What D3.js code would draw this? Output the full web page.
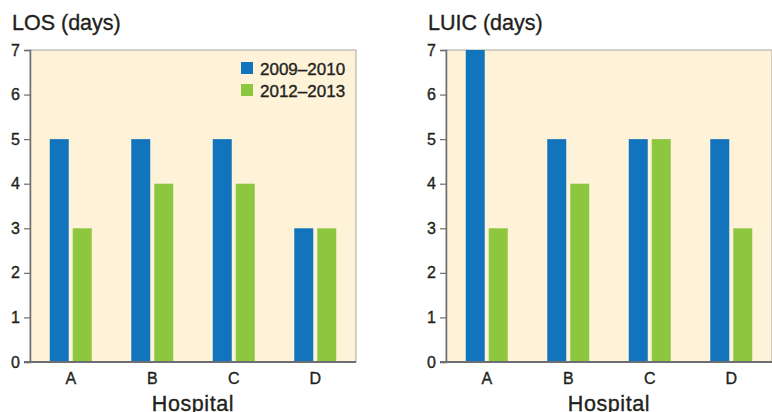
<!DOCTYPE html>
<html><head><meta charset="utf-8">
<script src="https://cdn.jsdelivr.net/npm/d3@7"></script>
<style>
html,body{margin:0;padding:0;background:#fff;overflow:hidden;}
svg{display:block;}
text{font-family:"Liberation Sans",Arial,Helvetica,sans-serif;fill:#231f20;stroke:#231f20;stroke-width:0.35px;}
</style></head>
<body>
<svg id="c" width="772" height="412"></svg>
<script>
const hospitals = ["A","B","C","D"];
const seriesNames = ["2009\u20132010","2012\u20132013"];
const losValues2009 = [5,5,5,3];
const losValues2012 = [3,4,4,3];
const luicValues2009 = [7,5,5,5];
const luicValues2012 = [3,4,5,3];
const yTicks = [0,1,2,3,4,5,6,7];
const colors = ["#1174bc","#8dc63f"];

const svg = d3.select("#c");

function panel(x0, title, v1, v2, showLegend){
  const w = 326, top = 50, bottom = 362;
  const g = svg.append("g");
  const x = d3.scaleBand().domain(hospitals).range([x0, x0 + w]);
  const y = d3.scaleLinear().domain([0,7]).range([bottom, top]);
  g.append("rect").attr("x", x0).attr("y", top).attr("width", w).attr("height", bottom-top)
    .attr("fill","#fef2d8").attr("stroke","#a9a6a0").attr("stroke-width",1);
  const bw = 19;
  const data = hospitals.map((h,i)=>({h, a:v1[i], b:v2[i]}));
  g.selectAll(".ba").data(data).join("rect")
    .attr("x", d=> x(d.h)+x.bandwidth()/2 - 21).attr("width", bw)
    .attr("y", d=> y(d.a)).attr("height", d=> y(0)-y(d.a)).attr("fill", colors[0]);
  g.selectAll(".bb").data(data).join("rect")
    .attr("x", d=> x(d.h)+x.bandwidth()/2 + 2).attr("width", bw)
    .attr("y", d=> y(d.b)).attr("height", d=> y(0)-y(d.b)).attr("fill", colors[1]);
  // y axis
  const ya = g.append("g").attr("transform",`translate(${x0},0)`)
    .call(d3.axisLeft(y).tickValues(yTicks).tickFormat(d3.format("d")).tickSize(6).tickPadding(4));
  ya.select(".domain").attr("stroke","#6d6e71").attr("stroke-width",1.5);
  ya.selectAll(".tick line").attr("stroke","#6d6e71").attr("stroke-width",1.2);
  ya.selectAll("text").attr("font-size",16).attr("font-family",null);
  // x axis
  const xa = g.append("g").attr("transform",`translate(0,${bottom})`)
    .call(d3.axisBottom(x).tickSize(0).tickPadding(11));
  xa.select(".domain").attr("stroke","#6d6e71").attr("stroke-width",2)
    .attr("d", `M${x0-6},0H${x0+w}`);
  xa.selectAll("text").attr("font-size",16).attr("font-family",null);
  g.append("text").attr("x", x0 + w/2).attr("y", 411).attr("text-anchor","middle")
    .attr("font-size",21.5).attr("letter-spacing",0.6).text("Hospital");
  g.append("text").attr("x", x0 - 18).attr("y", 30).attr("font-size",21.5).text(title);
  if(showLegend){
    const lg = g.append("g");
    seriesNames.forEach((s,i)=>{
      lg.append("rect").attr("x",241).attr("y",62+i*22).attr("width",12).attr("height",12).attr("fill",colors[i]);
      lg.append("text").attr("x",260).attr("y",75+i*22).attr("font-size",17).text(s);
    });
  }
}
panel(30, "LOS (days)", losValues2009, losValues2012, true);
panel(446, "LUIC (days)", luicValues2009, luicValues2012, false);
</script>
</body></html>
